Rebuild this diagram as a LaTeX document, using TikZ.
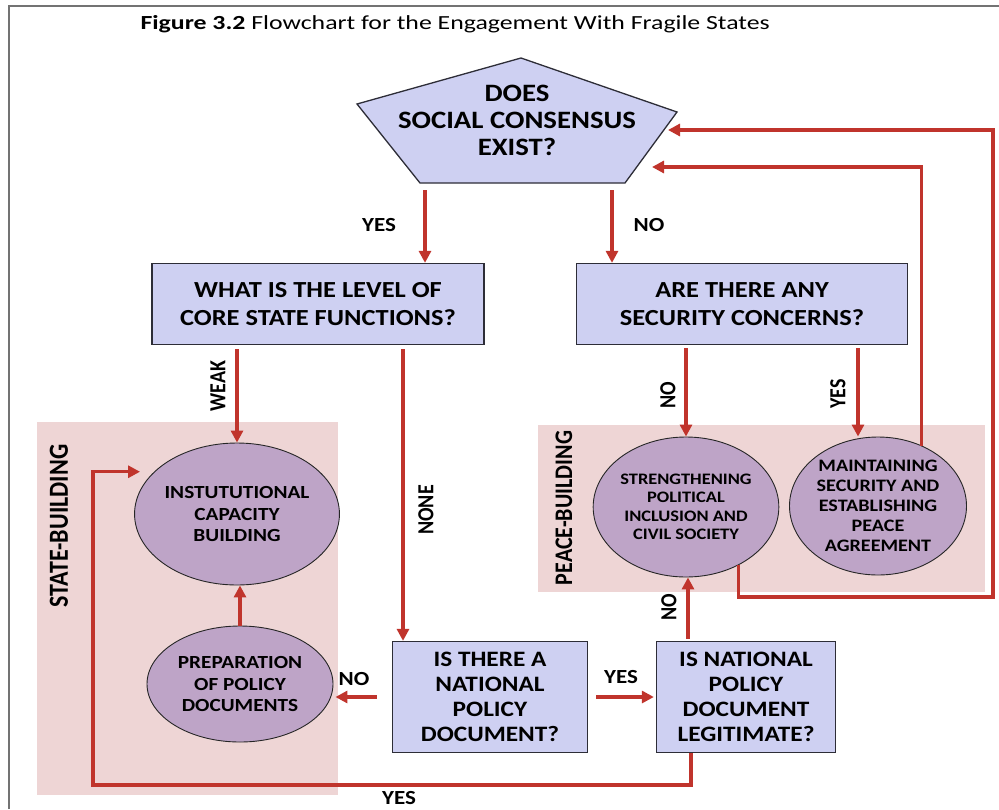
\documentclass[tikz,border=0pt]{standalone}
\usepackage{fontspec}
\setmainfont{Carlito}[FakeStretch=1.15]
\newfontfamily\sidefont{Carlito}
\newfontfamily\headfont{Carlito}[FakeStretch=1.29]
\usepackage{graphicx}
\usepackage{tikz}
\usetikzlibrary{shapes.geometric}
\usetikzlibrary{positioning}
\usetikzlibrary{arrows.meta}
\definecolor{askfill}{RGB}{206,208,242}
\definecolor{askline}{RGB}{45,45,55}
\definecolor{actfill}{RGB}{190,164,199}
\definecolor{zonefill}{RGB}{238,213,213}
\definecolor{flowred}{RGB}{192,52,44}
\newcommand{\tall}[1]{\scalebox{1}[1.15]{#1}}
\tikzset{x=1pt, y=-1pt,
         ask/.style={draw=askline, fill=askfill, line width=1.3pt, align=center,
                     inner sep=0pt, font=\bfseries\fontsize{23}{28}\selectfont},
         act/.style={ellipse, draw=black!85, fill=actfill, line width=0.9pt, align=center,
                     inner sep=0pt, font=\bfseries\fontsize{18.5}{21.5}\selectfont},
         zone/.style={fill=zonefill},
         zonetext/.style={font=\sidefont\bfseries\fontsize{24}{24}\selectfont, rotate=90},
         answer/.style={font=\bfseries\fontsize{20}{20}\selectfont},
         sideanswer/.style={font=\sidefont\bfseries\fontsize{20}{20}\selectfont, rotate=90},
         flow/.style={draw=flowred, line width=3.1pt, -{Triangle[length=12pt,width=12pt]}} }

\begin{document}
\begin{tikzpicture}
    \useasboundingbox (0,0) rectangle (999,809);
    \draw[black!55, line width=1.5pt] (9,809) -- (9,6) -- (999,6);
    \node[anchor=base west, font=\headfont\fontsize{20}{20}\selectfont] (title) at (137,29)
        {\textbf{Figure 3.2} Flowchart for the Engagement With Fragile States};

    % shaded zones
    \fill[zone] (37,422) rectangle (338,795);
    \fill[zone] (538,425) rectangle (985,592);
    \node[zonetext] (sb) at (59,526) {\tall{STATE-BUILDING}};
    \node[zonetext, font=\sidefont\bfseries\fontsize{22}{22}\selectfont] (pb) at (564,508) {\tall{PEACE-BUILDING}};

    % the question on top
    \draw[fill=askfill, draw=askline, line width=1.3pt]
        (521,58) -- (677,112) -- (625,183) -- (420,183) -- (357,104) -- cycle;
    \node[align=center, font=\bfseries\fontsize{25}{27}\selectfont] (q0) at (517,120)
        {DOES\\SOCIAL CONSENSUS\\EXIST?};
    \coordinate (q0yes) at (425,190);
    \coordinate (q0no) at (612,190);
    \coordinate (q0in1) at (668,130);
    \coordinate (q0in2) at (652,167);

    \node[ask, minimum width=332, minimum height=81] (q1) at (318,304) {WHAT IS THE LEVEL OF\\CORE STATE FUNCTIONS?};
    \node[ask, minimum width=331, minimum height=81] (q2) at (742,304) {ARE THERE ANY\\SECURITY CONCERNS?};
    \node[ask, minimum width=195, minimum height=111, font=\bfseries\fontsize{22}{25}\selectfont] (q3) at (490,697) {IS THERE A\\NATIONAL\\POLICY\\DOCUMENT?};
    \node[ask, minimum width=179, minimum height=111, font=\bfseries\fontsize{22}{25}\selectfont] (q4) at (746,697) {IS NATIONAL\\POLICY\\DOCUMENT\\LEGITIMATE?};

    \node[act, minimum width=172, minimum height=142] (c1) at (237,514) {INSTUTUTIONAL\\CAPACITY\\BUILDING};
    \node[act, minimum width=186, minimum height=116] (c2) at (240,684) {PREPARATION\\OF POLICY\\DOCUMENTS};
    \node[act, minimum width=178, minimum height=140, font=\bfseries\fontsize{16}{18.5}\selectfont] (c3) at (686,507) {STRENGTHENING\\POLITICAL\\INCLUSION AND\\CIVIL SOCIETY};
    \node[act, minimum width=177, minimum height=138, font=\bfseries\fontsize{17.5}{20}\selectfont] (c4) at (878,506) {MAINTAINING\\SECURITY AND\\ESTABLISHING\\PEACE\\AGREEMENT};

    \coordinate (none) at ([xshift=-87pt]q3.north);
    \coordinate (secyes) at ([xshift=-20pt]c4.north);
    \coordinate (q4up) at ([xshift=-58pt]q4.north);
    \coordinate (q4down) at ([xshift=-55pt]q4.south);

    \draw[flow] (q0yes) -- (q0yes |- q1.north);
    \draw[flow] (q0no) -- (q0no |- q2.north);
    \draw[flow, shorten <=4pt] (c1.north |- q1.south) -- (c1.north);
    \draw[flow, shorten <=4pt] (none |- q1.south) -- (none);
    \draw[flow, shorten <=3pt] (c3.north |- q2.south) -- (c3.north);
    \draw[flow, shorten <=3pt] (secyes |- q2.south) -- (secyes);
    \draw[flow] (c2.north) -- (c2.north |- c1.south);
    \draw[flow, shorten <=15pt, shorten >=2pt] (q3.west) -- (q3.west -| c2.east);
    \draw[flow, shorten <=8pt, shorten >=2pt] (q3.east) -- (q4.west);
    \draw[flow, shorten <=2pt] (q4up) -- (q4up |- c3.south);
    \draw[flow, shorten >=14pt] (q4down) |- (93,785) |- (c1.153);
    \draw[flow] (c4.54) |- (q0in2);
    \draw[flow] (c3.-48) |- (993,597) |- (q0in1);

    \node[answer] (ayes) at (379,225) {YES};
    \node[answer] (ano) at (649,225) {NO};
    \node[sideanswer] (aweak) at (218,386) {\tall{WEAK}};
    \node[sideanswer] (anone) at (426,510) {\tall{NONE}};
    \node[sideanswer] (asno) at (668,395) {\tall{NO}};
    \node[sideanswer] (asyes) at (838,394) {\tall{YES}};
    \node[sideanswer] (alno) at (669,607) {\tall{NO}};
    \node[answer] (ndno) at (354,679) {NO};
    \node[answer] (ndyes) at (621,677) {YES};
    \node[answer] (lgyes) at (399,798) {YES};
\end{tikzpicture}
\end{document}
